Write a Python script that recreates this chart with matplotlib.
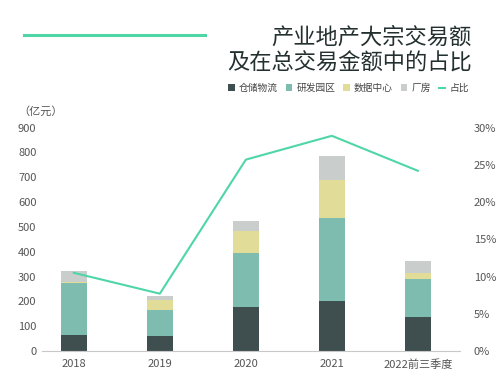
import matplotlib
matplotlib.use("Agg")
import matplotlib.pyplot as plt
from matplotlib.lines import Line2D
from matplotlib.patches import Patch
import numpy as np

plt.rcParams["font.family"] = ["Noto Sans CJK SC", "DejaVu Sans"]

years = ["2018", "2019", "2020", "2021", "2022前三季度"]
warehouse = [63, 59, 178, 200, 137]
rnd_park = [211, 108, 215, 337, 152]
data_center = [4, 37, 90, 151, 27]
factory = [44, 16, 42, 99, 47]
share_pct = [10.5, 7.7, 25.7, 28.9, 24.2]

series = [
    ("仓储物流", warehouse, "#3f4f4f"),
    ("研发园区", rnd_park, "#7dbcae"),
    ("数据中心", data_center, "#e1dc98"),
    ("厂房", factory, "#c9cdcc"),
]
line_color = "#4fd6a6"
tick_color = "#555555"

fig = plt.figure(figsize=(5.0, 3.78), dpi=100)
ax = fig.add_axes([0.084, 0.0714, 0.836, 0.591])

x = np.arange(len(years))
bottom = np.zeros(len(years))
for name, vals, color in series:
    ax.bar(x, vals, width=0.3, bottom=bottom, color=color, label=name, zorder=2)
    bottom += np.array(vals)

ax.set_xlim(-0.37, 4.49)
ax.set_ylim(0, 900)
ax.set_yticks(range(0, 901, 100))
ax.set_xticks(x)
ax.set_xticklabels(years)
for s in ["top", "right", "left"]:
    ax.spines[s].set_visible(False)
ax.spines["bottom"].set_color("#c8c8c8")
ax.tick_params(axis="both", length=0, labelsize=8, colors=tick_color)
ax.tick_params(axis="y", pad=4)
ax.tick_params(axis="x", pad=6)

ax2 = ax.twinx()
ax2.plot(x, share_pct, color=line_color, lw=1.5, zorder=3)
ax2.set_ylim(0, 30)
ax2.set_yticks(range(0, 31, 5))
ax2.set_yticklabels([f"{v}%" for v in range(0, 31, 5)])
for s in ["top", "right", "left", "bottom"]:
    ax2.spines[s].set_visible(False)
ax2.tick_params(axis="y", length=0, labelsize=8, colors=tick_color, pad=10)

fig.text(0.036, 0.705, "（亿元）", fontsize=8, color=tick_color, va="center")

# decorative line and title
fig.add_artist(Line2D([0.048, 0.41], [0.907, 0.907], color=line_color, lw=2.2))
title_kw = dict(fontsize=16, color="#24302f", ha="right", va="center",
                fontweight="light")
fig.text(0.944, 0.902, "产业地产大宗交易额", **title_kw)
fig.text(0.944, 0.833, "及在总交易金额中的占比", **title_kw)

handles = [Patch(facecolor=c, label=n) for n, _, c in series]
handles.append(Line2D([0], [0], color=line_color, lw=1.5, label="占比"))
fig.legend(handles=handles, loc="center right", bbox_to_anchor=(0.955, 0.767),
           ncol=5, frameon=False, fontsize=7, handlelength=0.7, handleheight=0.7,
           handletextpad=0.4, columnspacing=0.8, labelcolor="#444444")

fig.savefig("out.png", dpi=100)
